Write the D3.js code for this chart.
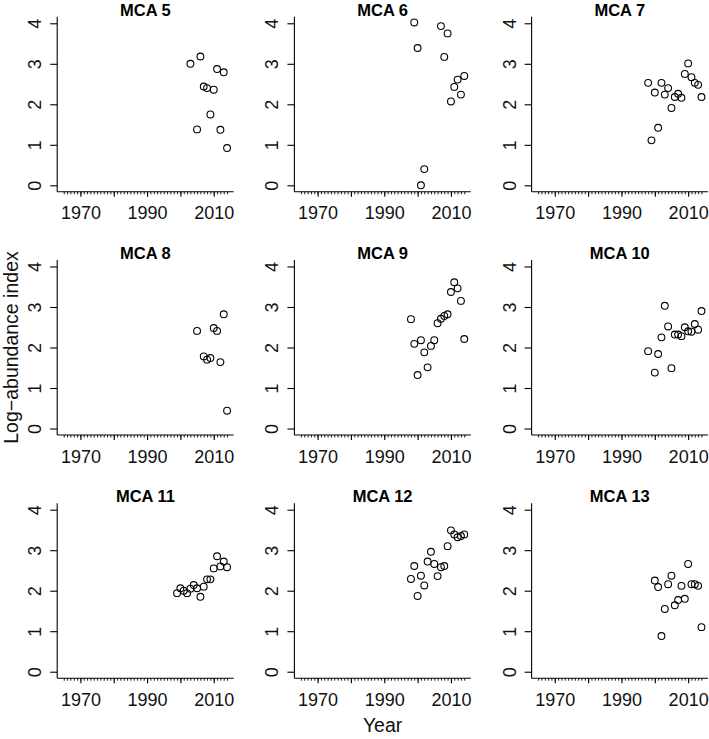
<!DOCTYPE html>
<html>
<head>
<meta charset="utf-8">
<script src="https://cdn.jsdelivr.net/npm/d3@7"></script>
<style>
  html, body { margin: 0; padding: 0; background: #fff; }
  svg { display: block; font-family: "Liberation Sans", Arial, Helvetica, sans-serif; }
</style>
</head>
<body>
<svg id="chart" width="709" height="739"></svg>
<script>
// ---- data ----
const panelTitles = ["MCA 5", "MCA 6", "MCA 7", "MCA 8", "MCA 9", "MCA 10", "MCA 11", "MCA 12", "MCA 13"];

const mca5Years  = [2003, 2005, 2006, 2007, 2008, 2009, 2010, 2011, 2012, 2013, 2014];
const mca5Values = [3.00, 1.38, 3.18, 2.44, 2.40, 1.75, 2.36, 2.87, 1.37, 2.79, 0.92];

const mca6Years  = [1999, 2000, 2001, 2002, 2007, 2008, 2009, 2010, 2011, 2012, 2013, 2014];
const mca6Values = [4.02, 3.39, 0.00, 0.40, 3.93, 3.17, 3.75, 2.07, 2.43, 2.61, 2.24, 2.70];

const mca7Years  = [1998, 1999, 2000, 2001, 2002, 2003, 2004, 2005, 2006, 2007, 2008, 2009, 2010, 2011, 2012, 2013, 2014];
const mca7Values = [2.53, 1.11, 2.29, 1.42, 2.53, 2.24, 2.40, 1.91, 2.18, 2.26, 2.16, 2.75, 3.01, 2.67, 2.53, 2.48, 2.18];

const mca8Years  = [2005, 2007, 2008, 2009, 2010, 2011, 2012, 2013, 2014];
const mca8Values = [2.41, 1.78, 1.70, 1.74, 2.48, 2.41, 1.64, 2.82, 0.44];

const mca9Years  = [1998, 1999, 2000, 2001, 2002, 2003, 2004, 2005, 2006, 2007, 2008, 2009, 2010, 2011, 2012, 2013, 2014];
const mca9Values = [2.70, 2.09, 1.32, 2.18, 1.88, 1.51, 2.04, 2.18, 2.60, 2.71, 2.78, 2.82, 3.37, 3.61, 3.46, 3.15, 2.21];

const mca10Years  = [1998, 2000, 2001, 2002, 2003, 2004, 2005, 2006, 2007, 2008, 2009, 2010, 2011, 2012, 2013, 2014];
const mca10Values = [1.91, 1.38, 1.84, 2.25, 3.03, 2.52, 1.49, 2.32, 2.32, 2.28, 2.50, 2.40, 2.39, 2.58, 2.44, 2.90];

const mca11Years  = [1999, 2000, 2001, 2002, 2003, 2004, 2005, 2006, 2007, 2008, 2009, 2010, 2011, 2012, 2013, 2014];
const mca11Values = [1.94, 2.06, 2.00, 1.94, 2.05, 2.14, 2.06, 1.85, 2.10, 2.28, 2.28, 2.55, 2.85, 2.60, 2.72, 2.58];

const mca12Years  = [1998, 1999, 2000, 2001, 2002, 2003, 2004, 2005, 2006, 2007, 2008, 2009, 2010, 2011, 2012, 2013, 2014];
const mca12Values = [2.29, 2.61, 1.87, 2.37, 2.13, 2.72, 2.96, 2.66, 2.36, 2.58, 2.61, 3.10, 3.49, 3.39, 3.32, 3.35, 3.39];

const mca13Years  = [2000, 2001, 2002, 2003, 2004, 2005, 2006, 2007, 2008, 2009, 2010, 2011, 2012, 2013, 2014];
const mca13Values = [2.25, 2.09, 0.88, 1.55, 2.16, 2.37, 1.64, 1.77, 2.12, 1.80, 2.66, 2.16, 2.16, 2.12, 1.10];

const xLimits = [1965, 2014];
const yLimits = [0, 4];
const yTicks = [0, 1, 2, 3, 4];
const xMajorTicks = [1970, 1980, 1990, 2000, 2010];
const xLabelTicks = [1970, 1990, 2010];
const xMinorTicks = d3.range(1965, 2015);

const xTitle = "Year";
const yTitle = "Log\u2212abundance index";

// ---- assemble panels ----
const panelYears = [mca5Years, mca6Years, mca7Years, mca8Years, mca9Years, mca10Years, mca11Years, mca12Years, mca13Years];
const panelValues = [mca5Values, mca6Values, mca7Values, mca8Values, mca9Values, mca10Values, mca11Values, mca12Values, mca13Values];
const panels = panelTitles.map((t, i) => ({
  title: t,
  points: panelYears[i].map((yr, j) => ({ year: yr, value: panelValues[i][j] }))
}));

// ---- layout ----
const svg = d3.select("#chart");
const plotLeft0 = 57.2, colStep = 237.2;
const plotTop0 = 16.8, rowStep = 243.2;
const plotW = 176.4, plotH = 175;
const tickFont = 18, titleFont = 16.5, axisTitleFont = 19.5;

// R-style 4% axis expansion
function expand(lim) { const d = (lim[1] - lim[0]) * 0.04; return [lim[0] - d, lim[1] + d]; }

const x = d3.scaleLinear().domain(expand(xLimits)).range([0, plotW]);
const y = d3.scaleLinear().domain(expand(yLimits)).range([plotH, 0]);

panels.forEach((p, i) => {
  const col = i % 3, row = Math.floor(i / 3);
  const g = svg.append("g")
    .attr("transform", `translate(${plotLeft0 + col * colStep},${plotTop0 + row * rowStep})`);

  // L-shaped box
  g.append("line").attr("x1", 0).attr("x2", 0).attr("y1", 0).attr("y2", plotH)
    .attr("stroke", "#000").attr("stroke-width", 1.1);
  g.append("line").attr("x1", 0).attr("x2", plotW).attr("y1", plotH).attr("y2", plotH)
    .attr("stroke", "#000").attr("stroke-width", 1.1);

  // y axis
  const yAxis = d3.axisLeft(y).tickValues(yTicks).tickSize(7).tickPadding(0).tickFormat(d3.format("d"));
  const ya = g.append("g").call(yAxis);
  ya.select(".domain").remove();
  ya.selectAll(".tick line").attr("stroke", "#000").attr("stroke-width", 1.1);
  ya.selectAll(".tick text")
    .attr("x", null).attr("dy", null)
    .attr("transform", "translate(-16,0) rotate(-90)")
    .attr("text-anchor", "middle")
    .attr("font-size", tickFont).attr("fill", "#111");

  // x axis: minor ticks
  const xMinor = d3.axisBottom(x).tickValues(xMinorTicks).tickSize(2.5).tickFormat("");
  const xm = g.append("g").attr("transform", `translate(0,${plotH})`).call(xMinor);
  xm.select(".domain").remove();
  xm.selectAll(".tick line").attr("stroke", "#000").attr("stroke-width", 0.9);

  // x axis: major ticks
  const xMajor = d3.axisBottom(x).tickValues(xMajorTicks).tickSize(5)
    .tickFormat(d => xLabelTicks.includes(d) ? String(d) : "").tickPadding(0);
  const xa = g.append("g").attr("transform", `translate(0,${plotH})`).call(xMajor);
  xa.select(".domain").remove();
  xa.selectAll(".tick line").attr("stroke", "#000").attr("stroke-width", 1.1);
  xa.selectAll(".tick text")
    .attr("y", 27.5).attr("dy", null)
    .attr("font-size", tickFont).attr("fill", "#111");

  // title
  g.append("text")
    .attr("x", plotW / 2).attr("y", -1)
    .attr("text-anchor", "middle")
    .attr("font-weight", "bold").attr("font-size", titleFont)
    .text(p.title);

  // points
  g.selectAll("circle").data(p.points).enter().append("circle")
    .attr("cx", d => x(d.year)).attr("cy", d => y(d.value))
    .attr("r", 3.4).attr("fill", "none").attr("stroke", "#000").attr("stroke-width", 1.1);
});

// outer axis titles centred on the middle panel
svg.append("text")
  .attr("x", plotLeft0 + colStep + plotW / 2).attr("y", 732)
  .attr("text-anchor", "middle").attr("font-size", axisTitleFont).attr("fill", "#111")
  .text(xTitle);

svg.append("text")
  .attr("transform", `translate(18,${plotTop0 + rowStep + plotH / 2}) rotate(-90)`)
  .attr("text-anchor", "middle").attr("font-size", axisTitleFont).attr("fill", "#111")
  .text(yTitle);
</script>
</body>
</html>
